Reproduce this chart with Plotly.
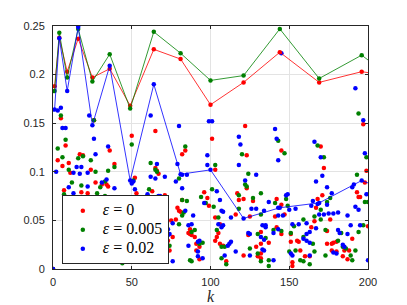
import plotly.graph_objects as go

# ---- data -------------------------------------------------------------
sq_k = [1, 4, 9, 16, 25, 36, 49, 64, 81, 100, 121, 144, 169, 196, 225]
red_sq = [0.188, 0.238, 0.203, 0.237, 0.197, 0.206, 0.168, 0.226, 0.216, 0.169, 0.192, 0.223, 0.192, 0.203, 0.196]
green_sq = [0.183, 0.243, 0.197, 0.247, 0.193, 0.221, 0.165, 0.244, 0.222, 0.194, 0.199, 0.247, 0.196, 0.220, 0.184]
blue_sq = [0.164, 0.2375, 0.183, 0.249, 0.148, 0.209, 0.091, 0.190, 0.0975, 0.102, 0.052, 0.063, 0.068, 0.091, 0.073]

red_k = [0, 5, 8, 3, 6, 10, 11, 17, 19, 24, 27, 7, 18, 22, 12, 28, 33, 26, 36, 39, 31, 35, 34, 35,
         50, 65, 101, 122, 123, 84, 82, 65, 66, 67, 52, 103, 123,
         53, 61, 63, 71, 82, 96, 98, 99, 117, 118, 121, 127, 79, 80, 81, 103, 116, 125,
         75, 78, 87, 86, 87, 88, 90, 76, 106, 105, 104, 103, 124, 132, 73, 91, 93, 91, 93, 74,
         106, 108, 110, 129, 130, 132, 121,
         145, 197, 170, 172, 171, 168, 167, 199, 198, 193, 194, 195, 142, 145,
         141, 147, 142, 176, 166, 164, 200, 174, 145, 151, 132, 137, 155, 156, 151, 174, 177, 178,
         180, 185, 188, 180, 177, 187, 184, 157, 160, 163, 152, 152, 132, 190]
red_y = [0.0, 0.155, 0.127, 0.112, 0.106, 0.109, 0.099, 0.118, 0.117, 0.102, 0.089, 0.081, 0.079, 0.078, 0.071, 0.073, 0.074, 0.153, 0.122, 0.108, 0.087, 0.085, 0.087, 0.063,
         0.137, 0.142, 0.134, 0.147, 0.117, 0.122, 0.118, 0.104, 0.101, 0.098, 0.094, 0.102, 0.083,
         0.078, 0.072, 0.080, 0.076, 0.071, 0.079, 0.073, 0.065, 0.078, 0.071, 0.072, 0.070, 0.063, 0.060, 0.059, 0.053, 0.056, 0.054,
         0.050, 0.051, 0.041, 0.037, 0.036, 0.035, 0.033, 0.033, 0.046, 0.037, 0.033, 0.029, 0.035, 0.038, 0.029, 0.026, 0.023, 0.019, 0.010, 0.019,
         0.026, 0.024, 0.008, 0.023, 0.013, 0.011, 0.014,
         0.122, 0.149, 0.126, 0.104, 0.076, 0.072, 0.063, 0.101, 0.089, 0.079, 0.074, 0.074, 0.072, 0.066,
         0.054, 0.056, 0.043, 0.051, 0.049, 0.043, 0.044, 0.039, 0.036, 0.036, 0.026, 0.027, 0.029, 0.028, 0.028, 0.026, 0.026, 0.027,
         0.028, 0.019, 0.019, 0.018, 0.019, 0.010, 0.013, 0.019, 0.013, 0.013, 0.007, 0.003, 0.016, 0.031]

green_k = [0, 5, 8, 3, 6, 10, 16, 19, 12, 18, 7, 28, 33, 24, 27, 26, 39, 35, 33, 30, 44,
           50, 84, 120, 62, 65, 66, 103, 124, 122, 123, 118, 127, 80, 51, 61, 101, 82, 85, 102,
           94, 97, 132, 83, 82, 105, 118, 132, 80, 90, 88, 104, 130, 74, 70, 93, 95, 87, 88, 107, 109, 107, 110, 125, 130, 132,
           194, 143, 147, 168, 172, 176, 174, 170, 199, 193, 198, 200, 149, 141, 148,
           166, 159, 170, 140, 153, 173, 183, 151, 145, 135, 159, 165, 181, 184, 186, 192, 190, 173, 150, 154, 157, 159, 163,
           137, 137, 166, 189, 194, 197]
green_y = [0.0, 0.158, 0.133, 0.124, 0.115, 0.102, 0.114, 0.116, 0.089, 0.086, 0.077, 0.078, 0.075, 0.112, 0.100, 0.153, 0.105, 0.101, 0.090, 0.084, 0.006,
           0.128, 0.126, 0.118, 0.109, 0.102, 0.100, 0.107, 0.098, 0.087, 0.085, 0.076, 0.073, 0.093, 0.091, 0.082, 0.082, 0.071, 0.070, 0.064,
           0.074, 0.068, 0.078, 0.058, 0.055, 0.053, 0.062, 0.056, 0.046, 0.040, 0.038, 0.040, 0.036, 0.024, 0.026, 0.026, 0.027, 0.009, 0.008, 0.023, 0.023, 0.011, 0.005, 0.021, 0.016, 0.008,
           0.160, 0.132, 0.119, 0.127, 0.115, 0.073, 0.069, 0.061, 0.115, 0.097, 0.069, 0.069, 0.065, 0.068, 0.072,
           0.054, 0.051, 0.051, 0.040, 0.044, 0.040, 0.037, 0.037, 0.039, 0.032, 0.033, 0.026, 0.029, 0.023, 0.021, 0.019, 0.009, 0.014, 0.018, 0.019, 0.009, 0.008, 0.005,
           0.009, 0.003, 0.018, 0.014, 0.038, 0.045]

blue_k = [0, 3, 5, 6, 8, 2, 13, 15, 18, 17, 22, 10, 22, 26, 27, 35, 34, 31, 39, 23, 39, 13, 28, 19, 11,
          62, 80, 99, 101, 118, 119, 118, 98, 98, 66, 62, 65, 51, 50, 52, 71, 78, 82, 104, 106, 96, 67, 68, 71, 122, 129, 126, 79, 82, 85,
          60, 89, 84, 107, 108, 113, 129, 134, 76, 73, 86, 88, 74, 73, 105, 107, 108, 125, 124, 135, 86, 92, 93, 92, 92, 95, 76,
          112, 113, 111, 116, 125, 109,
          141, 142, 143, 145, 192, 197, 166, 170, 171, 167, 174, 177, 165, 168, 174, 164, 198, 191, 190, 199, 192, 194, 154, 150, 143,
          137, 148, 149, 143, 146, 169, 172, 175, 178, 181, 187, 133, 135, 143, 152, 156, 161, 167, 189, 195, 181, 182, 163, 161, 140,
          134, 132, 163, 161, 159, 184, 185, 180, 178, 200, 151, 152, 163, 140, 134, 133, 187]
blue_y = [0.0, 0.163, 0.166, 0.145, 0.145, 0.100, 0.099, 0.105, 0.105, 0.098, 0.085, 0.084, 0.099, 0.134, 0.118, 0.126, 0.092, 0.089, 0.083, 0.158, 0.067, 0.078, 0.072, 0.070, 0.070,
          0.158, 0.147, 0.152, 0.152, 0.136, 0.128, 0.107, 0.117, 0.107, 0.108, 0.095, 0.093, 0.090, 0.088, 0.082, 0.095, 0.090, 0.083, 0.080, 0.071, 0.068, 0.075, 0.075, 0.071, 0.091, 0.097, 0.062, 0.108, 0.097, 0.097,
          0.077, 0.055, 0.060, 0.060, 0.059, 0.053, 0.062, 0.060, 0.047, 0.041, 0.045, 0.046, 0.036, 0.035, 0.046, 0.043, 0.045, 0.036, 0.037, 0.043, 0.024, 0.028, 0.029, 0.018, 0.013, 0.011, 0.008,
          0.026, 0.028, 0.024, 0.018, 0.014, 0.014,
          0.144, 0.134, 0.112, 0.222, 0.186, 0.153, 0.131, 0.115, 0.096, 0.090, 0.084, 0.078, 0.070, 0.067, 0.066, 0.065, 0.119, 0.087, 0.084, 0.077, 0.064, 0.061, 0.062, 0.061, 0.063,
          0.069, 0.076, 0.077, 0.055, 0.055, 0.056, 0.056, 0.057, 0.057, 0.058, 0.055, 0.045, 0.045, 0.041, 0.046, 0.046, 0.047, 0.042, 0.045, 0.045, 0.040, 0.037, 0.038, 0.036, 0.037,
          0.030, 0.033, 0.027, 0.029, 0.031, 0.025, 0.023, 0.016, 0.017, 0.009, 0.016, 0.014, 0.014, 0.009, 0.019, 0.020, 0.036]

series_names = ["<i>ε</i> = 0", "<i>ε</i> = 0.005", "<i>ε</i> = 0.02"]
colors = ["rgb(255,0,0)", "rgb(0,128,0)", "rgb(0,0,255)"]
x_ticks = [0, 50, 100, 150, 200]
y_ticks = [0, 0.05, 0.1, 0.15, 0.2, 0.25]
y_tick_text = ["0", "0.05", "0.1", "0.15", "0.2", "0.25"]

# ---- figure -----------------------------------------------------------
fig = go.Figure()
for name, col, ks, ys in zip(series_names, colors, [red_k, green_k, blue_k], [red_y, green_y, blue_y]):
    fig.add_trace(go.Scatter(x=ks, y=ys, mode="markers",
                             name="<span style='font-size:16px'>" + name + "</span>",
                             marker=dict(color=col, size=4.5, line=dict(width=0))))
for col, ys in zip(colors, [red_sq, green_sq, blue_sq]):
    fig.add_trace(go.Scatter(x=sq_k, y=ys, mode="lines+markers", showlegend=False,
                             line=dict(color=col, width=0.8),
                             marker=dict(color=col, size=4.5, line=dict(width=0))))

axis_common = dict(showline=True, mirror="ticks", linecolor="#262626", linewidth=1,
                   ticks="inside", ticklen=3, tickcolor="#262626",
                   showgrid=True, gridcolor="#e3e3e3", gridwidth=1, zeroline=False,
                   tickfont=dict(family="Liberation Sans, Arial", size=11, color="#262626"))

fig.update_layout(
    width=399, height=297,
    margin=dict(l=45, r=39, t=15, b=36),
    paper_bgcolor="white", plot_bgcolor="white",
    xaxis=dict(range=[0, 200], tickvals=x_ticks, ticklabelstandoff=3, **axis_common),
    yaxis=dict(range=[0, 0.25], tickvals=y_ticks, ticktext=y_tick_text, ticklabelstandoff=5, **axis_common),
    legend=dict(x=0.028, y=0.02, xanchor="left", yanchor="bottom",
                bgcolor="white", bordercolor="#262626", borderwidth=1,
                font=dict(family="Liberation Serif, DejaVu Serif", size=12, color="black"),
                itemwidth=30, tracegroupgap=0),
    annotations=[dict(text="<i>k</i>", xref="paper", yref="paper", x=0.5, y=-0.113,
                      xanchor="center", yanchor="middle", showarrow=False,
                      font=dict(family="Liberation Serif, DejaVu Serif", size=16, color="#262626"))],
)

fig.write_html("out.html")
